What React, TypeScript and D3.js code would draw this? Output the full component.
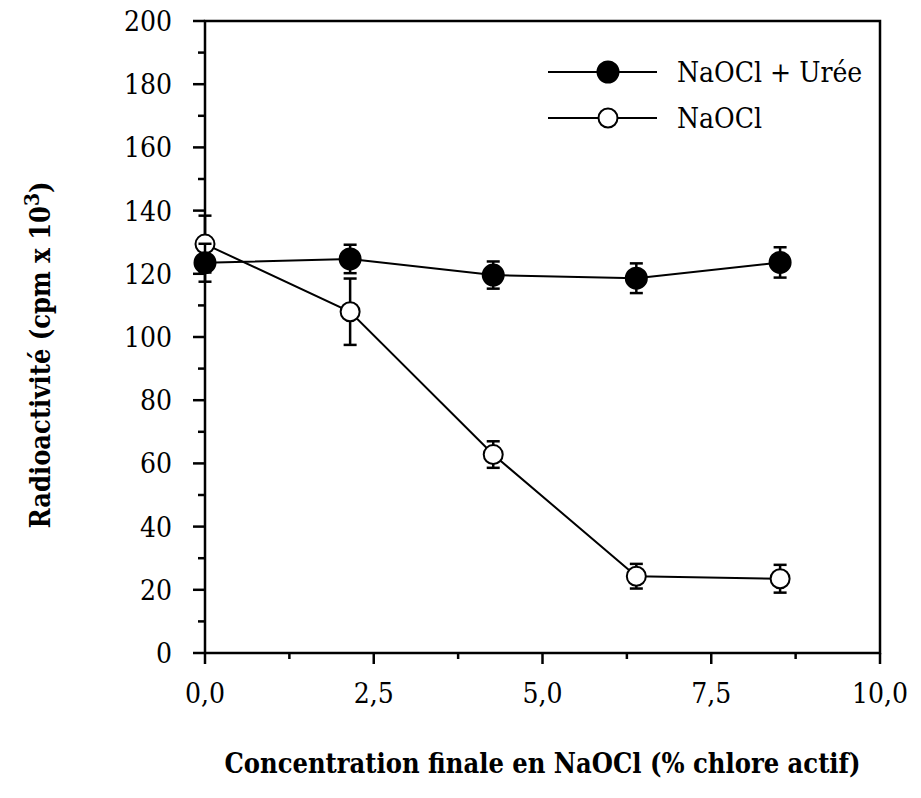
import { useRef, useEffect } from "react";
import * as d3 from "d3";

const width = 921;
const height = 798;
const margin = { left: 205, right: 41, top: 21, bottom: 145 };

// concentration finale (% chlore actif)
const concentrations = [0, 2.15, 4.27, 6.39, 8.52];
const ureaValues = [123.5, 124.7, 119.6, 118.6, 123.6];
const ureaErrors = [6, 4.5, 4.3, 4.7, 4.8];
const naoclValues = [129.4, 108, 62.8, 24.3, 23.5];
const naoclErrors = [9, 10.5, 4.2, 3.9, 4.4];

const seriesNames = ["NaOCl + Urée", "NaOCl"];
const xTicks = [0, 2.5, 5, 7.5, 10];
const xMinor = [1.25, 3.75, 6.25, 8.75];
const yTicks = [0, 20, 40, 60, 80, 100, 120, 140, 160, 180, 200];
const yMinor = [10, 30, 50, 70, 90, 110, 130, 150, 170, 190];

const font = '"DejaVu Serif Condensed", "DejaVu Serif", serif';

const App = () => {
  const ref = useRef<SVGSVGElement>(null);

  useEffect(() => {
    const svg = d3.select(ref.current!);
    svg.selectAll("*").remove();

    const x = d3
      .scaleLinear()
      .domain([0, 10])
      .range([margin.left, width - margin.right]);
    const y = d3
      .scaleLinear()
      .domain([0, 200])
      .range([height - margin.bottom, margin.top]);

    const x0 = x(0);
    const x1 = x(10);
    const y0 = y(0);
    const y1 = y(200);

    // frame
    svg
      .append("rect")
      .attr("x", x0)
      .attr("y", y1)
      .attr("width", x1 - x0)
      .attr("height", y0 - y1)
      .attr("fill", "none")
      .attr("stroke", "#000")
      .attr("stroke-width", 2.5);

    // y ticks
    const yAxis = svg
      .append("g")
      .style("font-family", font)
      .style("font-stretch", "condensed")
      .style("font-size", "28px");
    yTicks.forEach((t) => {
      yAxis
        .append("line")
        .attr("x1", x0 - 12)
        .attr("x2", x0)
        .attr("y1", y(t))
        .attr("y2", y(t))
        .attr("stroke", "#000")
        .attr("stroke-width", 2.5);
      yAxis
        .append("text")
        .attr("x", x0 - 33)
        .attr("y", y(t))
        .attr("dy", "0.36em")
        .attr("text-anchor", "end")
        .text(d3.format("d")(t));
    });
    yMinor.forEach((t) => {
      yAxis
        .append("line")
        .attr("x1", x0 - 7)
        .attr("x2", x0)
        .attr("y1", y(t))
        .attr("y2", y(t))
        .attr("stroke", "#000")
        .attr("stroke-width", 2.5);
    });

    // x ticks
    const xAxis = svg
      .append("g")
      .style("font-family", font)
      .style("font-stretch", "condensed")
      .style("font-size", "28px");
    xTicks.forEach((t) => {
      xAxis
        .append("line")
        .attr("x1", x(t))
        .attr("x2", x(t))
        .attr("y1", y0)
        .attr("y2", y0 + 11)
        .attr("stroke", "#000")
        .attr("stroke-width", 2.5);
      xAxis
        .append("text")
        .attr("x", x(t))
        .attr("y", y0 + 50)
        .attr("text-anchor", "middle")
        .text(t.toFixed(1).replace(".", ","));
    });
    xMinor.forEach((t) => {
      xAxis
        .append("line")
        .attr("x1", x(t))
        .attr("x2", x(t))
        .attr("y1", y0)
        .attr("y2", y0 + 6)
        .attr("stroke", "#000")
        .attr("stroke-width", 2.5);
    });

    // axis titles
    svg
      .append("text")
      .attr("x", (x0 + x1) / 2)
      .attr("y", 773)
      .attr("text-anchor", "middle")
      .style("font-family", font)
      .style("font-stretch", "condensed")
      .style("font-weight", "bold")
      .style("font-size", "27px")
      .text("Concentration finale en NaOCl (% chlore actif)");

    const yTitle = svg
      .append("text")
      .attr("transform", `translate(50, 355) rotate(-90)`)
      .attr("text-anchor", "middle")
      .style("font-family", font)
      .style("font-stretch", "condensed")
      .style("font-weight", "bold")
      .style("font-size", "27px");
    yTitle.append("tspan").text("Radioactivité (cpm x 10");
    yTitle.append("tspan").attr("dy", -11).style("font-size", "21px").text("3");
    yTitle.append("tspan").attr("dy", 11).text(")");

    const line = d3
      .line<number>()
      .x((_, i) => x(concentrations[i]))
      .y((d) => y(d));

    const drawSeries = (values: number[], errors: number[], filled: boolean, r: number) => {
      const g = svg.append("g");
      g.append("path")
        .attr("d", line(values)!)
        .attr("fill", "none")
        .attr("stroke", "#000")
        .attr("stroke-width", 2);
      values.forEach((v, i) => {
        const cx = x(concentrations[i]);
        const top = y(v + errors[i]);
        const bot = y(v - errors[i]);
        g.append("line")
          .attr("x1", cx)
          .attr("x2", cx)
          .attr("y1", top)
          .attr("y2", bot)
          .attr("stroke", "#000")
          .attr("stroke-width", 2.5);
        [top, bot].forEach((yy) =>
          g
            .append("line")
            .attr("x1", cx - 6.5)
            .attr("x2", cx + 6.5)
            .attr("y1", yy)
            .attr("y2", yy)
            .attr("stroke", "#000")
            .attr("stroke-width", 2.5)
        );
      });
      values.forEach((v, i) => {
        g.append("circle")
          .attr("cx", x(concentrations[i]))
          .attr("cy", y(v))
          .attr("r", r)
          .attr("fill", filled ? "#000" : "#fff")
          .attr("stroke", "#000")
          .attr("stroke-width", 2);
      });
    };

    drawSeries(naoclValues, naoclErrors, false, 9.5);
    drawSeries(ureaValues, ureaErrors, true, 10.5);

    // legend
    const legend = svg
      .append("g")
      .style("font-family", font)
      .style("font-stretch", "condensed")
      .style("font-size", "28px");
    seriesNames.forEach((name, i) => {
      const ly = 72 + i * 46;
      legend
        .append("line")
        .attr("x1", 548)
        .attr("x2", 657)
        .attr("y1", ly)
        .attr("y2", ly)
        .attr("stroke", "#000")
        .attr("stroke-width", 2);
      legend
        .append("circle")
        .attr("cx", 608)
        .attr("cy", ly)
        .attr("r", i === 0 ? 10.5 : 9.5)
        .attr("fill", i === 0 ? "#000" : "#fff")
        .attr("stroke", "#000")
        .attr("stroke-width", 2);
      legend
        .append("text")
        .attr("x", 677)
        .attr("y", ly)
        .attr("dy", "0.36em")
        .text(name);
    });
  }, []);

  return (
    <div style={{ position: "absolute", left: 0, top: 0 }}>
      <svg ref={ref} width={width} height={height} style={{ display: "block", background: "#fff" }} />
    </div>
  );
};

export default App;
